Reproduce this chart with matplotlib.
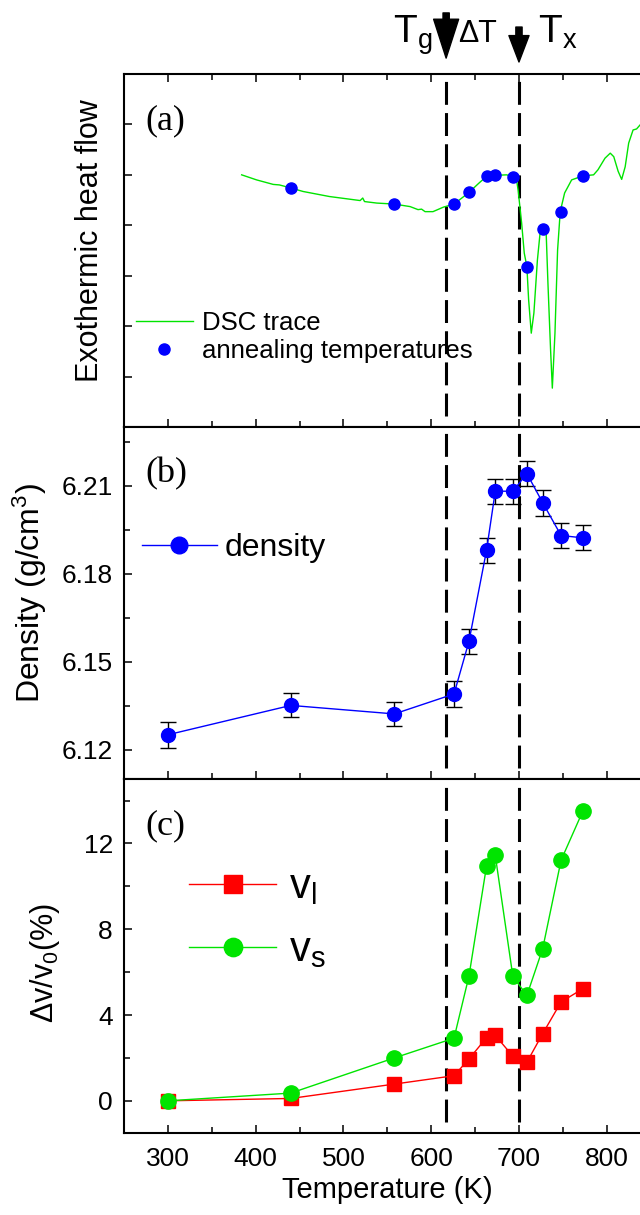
import matplotlib
matplotlib.use('Agg')
import matplotlib.pyplot as plt
from matplotlib.ticker import MultipleLocator, NullFormatter

plt.rcParams['font.family'] = ['Liberation Sans', 'DejaVu Sans']
plt.rcParams['mathtext.default'] = 'regular'

# annealing temperatures (K)
temps = [300, 440, 558, 626, 643, 663, 673, 693, 709, 727, 748, 773]

# (b) density, g/cm^3
density = [6.1251, 6.1351, 6.1322, 6.1390, 6.1569, 6.1879,
           6.2081, 6.2081, 6.2141, 6.2042, 6.1930, 6.1922]
density_err = [0.0044, 0.0041, 0.0042, 0.0043, 0.0042, 0.0043,
               0.0042, 0.0042, 0.0042, 0.0044, 0.0042, 0.0043]

# (c) relative change of sound velocities, %
dv_l = [0.0, 0.11, 0.78, 1.17, 1.95, 2.94, 3.05, 2.08, 1.80, 3.13, 4.61, 5.23]
dv_s = [0.0, 0.36, 2.00, 2.92, 5.81, 10.94, 11.44, 5.81, 4.91, 7.09, 11.22, 13.53]

# (a) DSC trace, arbitrary units
dsc_t = [384, 401, 420, 427, 440, 454, 484, 519, 522, 524, 538, 558, 576,
         585, 589, 593, 602, 614, 626, 643, 654, 663, 673, 686, 693, 697,
         699, 703, 706, 709, 711, 714, 717, 721, 724, 728, 731, 733, 736,
         738, 741, 744, 747, 752, 760, 773, 785, 790, 798, 804, 808, 813,
         817, 821, 825, 830, 834, 838]
dsc_y = [5.00, 4.90, 4.81, 4.80, 4.74, 4.67, 4.57, 4.49, 4.54, 4.47, 4.44,
         4.42, 4.37, 4.31, 4.32, 4.27, 4.27, 4.36, 4.42, 4.65, 4.83, 4.97,
         4.99, 5.00, 4.96, 4.93, 4.70, 4.05, 3.45, 3.18, 2.52, 1.86, 2.26,
         3.31, 3.84, 3.92, 3.84, 2.85, 1.53, 0.77, 1.86, 3.51, 4.27, 4.64,
         4.90, 4.98, 5.00, 5.10, 5.33, 5.43, 5.36, 5.07, 4.91, 5.16, 5.63,
         5.89, 5.91, 5.99]
anneal_t = temps[1:]
anneal_y = [4.74, 4.42, 4.42, 4.65, 4.97, 4.99, 4.96, 3.18, 3.92, 4.27, 4.98]

T_g = 617
T_x = 700

GREEN = '#00e400'
BLUE = '#0000ff'
RED = '#ff0000'

fig = plt.figure(figsize=(6.4, 12.15), dpi=100)
left, width = 0.1938, 0.8228
ax_a = fig.add_axes([left, 0.6486, width, 0.2905])
ax_b = fig.add_axes([left, 0.3588, width, 0.2898])
ax_c = fig.add_axes([left, 0.0675, width, 0.2913])
axes = [ax_a, ax_b, ax_c]

for ax in axes:
  ax.set_xlim(250, 850)
  ax.xaxis.set_major_locator(MultipleLocator(100))
  ax.xaxis.set_minor_locator(MultipleLocator(50))
  ax.tick_params(which='both', direction='in', width=1.1, labelsize=19)
  ax.tick_params(which='major', length=6)
  ax.tick_params(which='minor', length=4)
  ax.tick_params(axis='x', bottom=True, top=False, labelbottom=False)
  ax.tick_params(axis='y', pad=8)
  for s in ax.spines.values():
    s.set_linewidth(1.5)
  ax.axvline(T_g, ymin=0.03, ymax=0.99, color='black', lw=2.2, ls=(0, (7.5, 2.7)))
  ax.axvline(T_x, ymin=0.03, ymax=0.99, color='black', lw=2.2, ls=(0, (7.5, 2.7)))

ax_a.tick_params(axis='x', which='both', top=True)
ax_c.tick_params(axis='x', labelbottom=True, pad=10)

# (a)
ax_a.plot(dsc_t, dsc_y, color=GREEN, lw=1.0, label='DSC trace')
ax_a.plot(anneal_t, anneal_y, ls='none', marker='o', ms=8, color=BLUE,
          mec=BLUE, label='annealing temperatures')
ax_a.set_ylim(0, 7)
ax_a.yaxis.set_major_locator(MultipleLocator(1))
ax_a.yaxis.set_major_formatter(NullFormatter())
ax_a.set_ylabel('Exothermic heat flow', fontsize=22, va='center')
ax_a.yaxis.set_label_coords(-0.0645, 0.528)
ax_a.legend(loc='center left', bbox_to_anchor=(0.0228, 0.256), frameon=False,
            fontsize=18.5, handlelength=2.2, handletextpad=0.35,
            labelspacing=0.15, borderpad=0, borderaxespad=0, numpoints=1)

# arrows and labels above panel (a)
arrow1 = dict(arrowstyle='simple,head_length=28,head_width=18,tail_width=4.5',
              color='black', shrinkA=0, shrinkB=0, mutation_scale=1)
arrow2 = dict(arrowstyle='simple,head_length=19,head_width=14.5,tail_width=4.5',
              color='black', shrinkA=0, shrinkB=0, mutation_scale=1)
ax_a.annotate('', xy=(T_g, 1.045), xytext=(T_g, 1.173),
              xycoords=('data', 'axes fraction'), textcoords=('data', 'axes fraction'),
              arrowprops=arrow1, annotation_clip=False)
ax_a.annotate('', xy=(T_x, 1.034), xytext=(T_x, 1.133),
              xycoords=('data', 'axes fraction'), textcoords=('data', 'axes fraction'),
              arrowprops=arrow2, annotation_clip=False)
ax_a.text(556, 1.088, r'T$_g$', fontsize=28, ha='left', va='baseline',
          transform=ax_a.get_xaxis_transform(), clip_on=False)
ax_a.text(631, 1.091, 'ΔT', fontsize=22, ha='left', va='baseline',
          transform=ax_a.get_xaxis_transform(), clip_on=False)
ax_a.text(722, 1.088, r'T$_x$', fontsize=28, ha='left', va='baseline',
          transform=ax_a.get_xaxis_transform(), clip_on=False)

# (b)
eb = ax_b.errorbar(temps, density, yerr=density_err, color=BLUE, lw=1.0,
                   marker='o', ms=10, mec=BLUE, ecolor='black', elinewidth=1.0,
                   capsize=5.5, capthick=1.0)
ax_b.set_ylim(6.11, 6.23)
ax_b.yaxis.set_major_locator(MultipleLocator(0.03))
ax_b.yaxis.set_minor_locator(MultipleLocator(0.015))
ax_b.set_ylabel(r'Density (g/cm$^3$)', fontsize=23, va='center')
ax_b.yaxis.set_label_coords(-0.178, 0.528)
ax_b.legend([eb.lines[0]], ['density'], loc='center left',
            bbox_to_anchor=(0.034, 0.657), frameon=False, fontsize=23,
            handlelength=2.34, handletextpad=0.25, markerscale=1.2,
            borderpad=0, borderaxespad=0, numpoints=1)

# (c)
ax_c.plot(temps, dv_l, color=RED, lw=1.0, marker='s', ms=10.5, mec=RED,
          label=r'$v_l$')
ax_c.plot(temps, dv_s, color=GREEN, lw=1.0, marker='o', ms=11, mec=GREEN,
          label=r'$v_s$')
ax_c.set_ylim(-1.5, 15)
ax_c.yaxis.set_major_locator(MultipleLocator(4))
ax_c.yaxis.set_minor_locator(MultipleLocator(2))
ax_c.set_ylabel(r'$\Delta$v/v$_0$(%)', fontsize=22, va='center')
ax_c.yaxis.set_label_coords(-0.150, 0.48)
ax_c.set_xlabel('Temperature (K)', fontsize=21)
ax_c.legend(loc='center left', bbox_to_anchor=(0.123, 0.605), frameon=False,
            fontsize=30, handlelength=2.1, handletextpad=0.3, labelspacing=0.55,
            markerscale=1.2, borderpad=0, borderaxespad=0, numpoints=1)

for ax, tag in zip(axes, ['(a)', '(b)', '(c)']):
  ax.text(0.04, 0.915, tag, transform=ax.transAxes, fontsize=26,
          family='Liberation Serif', ha='left', va='top')

fig.savefig('out.png', dpi=100)
